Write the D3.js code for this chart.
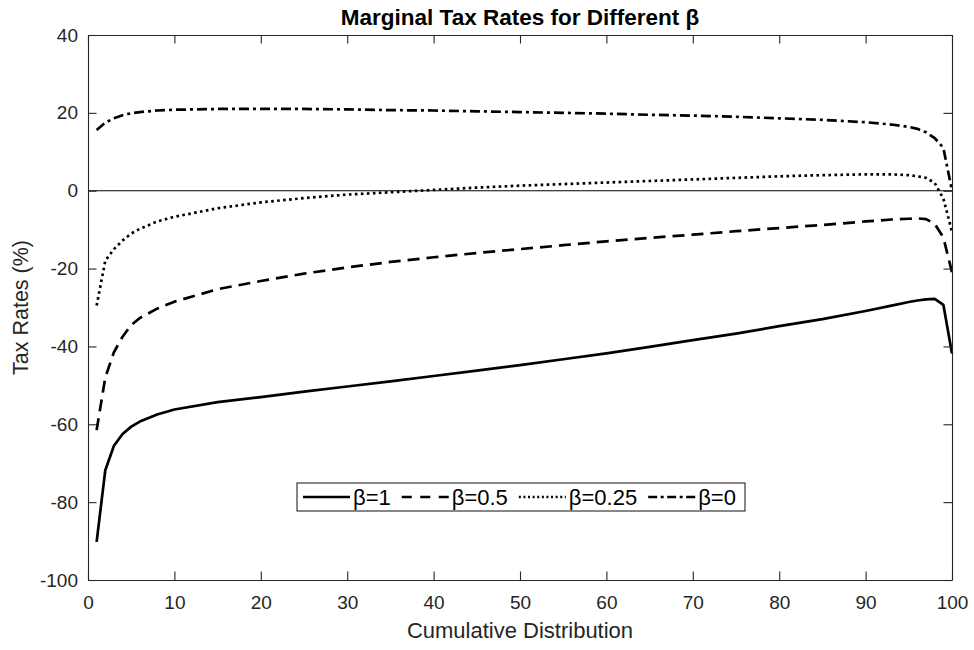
<!DOCTYPE html>
<html>
<head>
<meta charset="utf-8">
<script src="https://cdn.jsdelivr.net/npm/d3@7"></script>
<style>
  html, body { margin: 0; padding: 0; background: #fff; }
  svg { display: block; font-family: "Liberation Sans", Arial, Helvetica, sans-serif; }
</style>
</head>
<body>
<svg id="chart" width="974" height="650"></svg>
<script>
// ---- data ----
const percentiles = [1,2,3,4,5,6,8,10,15,20,25,30,35,40,45,50,55,60,65,70,75,80,85,90,93,95,96,97,98,99,100];
const beta1   = [-90.2,-71.8,-65.5,-62.5,-60.6,-59.3,-57.5,-56.2,-54.3,-53.0,-51.6,-50.3,-49.0,-47.6,-46.2,-44.8,-43.3,-41.8,-40.1,-38.4,-36.7,-34.8,-33.0,-30.9,-29.5,-28.6,-28.2,-27.9,-27.8,-29.3,-41.8];
const beta05  = [-61.5,-48.0,-41.5,-37.5,-34.5,-32.7,-30.3,-28.5,-25.3,-23.2,-21.3,-19.7,-18.3,-17.1,-16.0,-15.0,-14.0,-13.0,-12.1,-11.3,-10.4,-9.6,-8.8,-7.9,-7.4,-7.2,-7.1,-7.3,-8.5,-12.0,-21.0];
const beta025 = [-29.5,-18.0,-15.0,-12.8,-11.0,-9.8,-7.9,-6.7,-4.5,-3.0,-1.9,-1.0,-0.4,0.2,0.8,1.3,1.7,2.1,2.5,2.9,3.3,3.7,4.0,4.2,4.2,4.0,3.7,3.3,2.0,-2.0,-10.5];
const beta0   = [15.6,17.5,18.6,19.4,19.9,20.2,20.6,20.8,21.0,21.0,21.0,20.9,20.7,20.6,20.4,20.2,20.0,19.8,19.5,19.3,19.0,18.6,18.2,17.6,17.0,16.4,15.9,15.0,13.5,11.0,0.0];
const seriesNames = ["β=1","β=0.5","β=0.25","β=0"];
const xTicks = [0,10,20,30,40,50,60,70,80,90,100];
const yTicks = [-100,-80,-60,-40,-20,0,20,40];
const titleText = "Marginal Tax Rates for Different β";
const xLabel = "Cumulative Distribution";
const yLabel = "Tax Rates (%)";

// ---- layout ----
const W = 974, H = 650;
const m = {left: 88, right: 22, top: 35, bottom: 70};
const pw = W - m.left - m.right, ph = H - m.top - m.bottom;
const axisColor = "#262626";
const dashes = ["none", "12,7", "2.6,3.4", "10,4,3,4"];
const legendDashes = ["none", "10,8.5", "2,2.6", "9,3.5,3,3.5"];

const svg = d3.select("#chart");
const g = svg.append("g").attr("transform", `translate(${m.left},${m.top})`);

const x = d3.scaleLinear().domain([0, 100]).range([0, pw]);
const y = d3.scaleLinear().domain([-100, 40]).range([ph, 0]);

g.append("rect").attr("width", pw).attr("height", ph).attr("fill", "#fff");

// zero line
g.append("line")
  .attr("x1", x(0)).attr("x2", x(100)).attr("y1", y(0)).attr("y2", y(0))
  .attr("stroke", "#000").attr("stroke-width", 1.1);

// series
const allSeries = [beta1, beta05, beta025, beta0];
const line = d3.line().x((d, i) => x(percentiles[i])).y(d => y(d));
allSeries.forEach((s, k) => {
  g.append("path").datum(s)
    .attr("d", line)
    .attr("fill", "none")
    .attr("stroke", "#000")
    .attr("stroke-width", 2.7)
    .attr("stroke-linejoin", "round")
    .attr("stroke-dasharray", dashes[k]);
});

// axes (ticks inward, mirrored on top and right)
const tickLen = 8.5;
const fmt = d => String(d);
const styleAxis = sel => {
  sel.selectAll(".domain").attr("stroke", axisColor).attr("stroke-width", 1.1);
  sel.selectAll(".tick line").attr("stroke", axisColor).attr("stroke-width", 1.1);
  sel.selectAll(".tick text").attr("fill", axisColor).style("font-size", "19px")
     .style("font-family", '"Liberation Sans", Arial, Helvetica, sans-serif');
};
const xAxisB = g.append("g").attr("transform", `translate(0,${ph})`)
  .call(d3.axisBottom(x).tickValues(xTicks).tickFormat(fmt).tickSizeInner(-tickLen).tickSizeOuter(0))
  .call(styleAxis);
xAxisB.selectAll(".tick text").attr("dy", "0.71em").attr("y", 16);
g.append("g")
  .call(d3.axisTop(x).tickValues(xTicks).tickSizeInner(-tickLen).tickSizeOuter(0).tickFormat(""))
  .call(styleAxis);
const yAxisL = g.append("g")
  .call(d3.axisLeft(y).tickValues(yTicks).tickFormat(fmt).tickSizeInner(-tickLen).tickSizeOuter(0))
  .call(styleAxis);
yAxisL.selectAll(".tick text").attr("x", -10);
g.append("g").attr("transform", `translate(${pw},0)`)
  .call(d3.axisRight(y).tickValues(yTicks).tickSizeInner(-tickLen).tickSizeOuter(0).tickFormat(""))
  .call(styleAxis);

// title and labels
svg.append("text").attr("x", m.left + pw / 2).attr("y", 25)
  .attr("text-anchor", "middle").attr("font-weight", "bold").attr("font-size", "22.5px")
  .attr("fill", "#000").text(titleText);
svg.append("text").attr("x", m.left + pw / 2).attr("y", 638)
  .attr("text-anchor", "middle").attr("font-size", "22px").attr("fill", axisColor).text(xLabel);
svg.append("text").attr("transform", `translate(28,${m.top + ph / 2}) rotate(-90)`)
  .attr("text-anchor", "middle").attr("font-size", "21.5px").attr("fill", axisColor).text(yLabel);

// legend
const lg = svg.append("g");
const box = lg.append("rect").attr("fill", "#fff").attr("stroke", axisColor).attr("stroke-width", 1.1);
let cx = 303;
const ly = 497;
const lineLen = 47;
seriesNames.forEach((name, k) => {
  lg.append("line").attr("x1", cx).attr("x2", cx + lineLen).attr("y1", ly).attr("y2", ly)
    .attr("stroke", "#000").attr("stroke-width", 2.7).attr("stroke-dasharray", legendDashes[k]);
  cx += lineLen + 3;
  const t = lg.append("text").attr("x", cx).attr("y", ly + 7.8).attr("font-size", "22px")
    .attr("fill", "#000").text(name);
  cx += t.node().getComputedTextLength() + 11;
});
box.attr("x", 297).attr("y", 483).attr("width", 448).attr("height", 28);
</script>
</body>
</html>
